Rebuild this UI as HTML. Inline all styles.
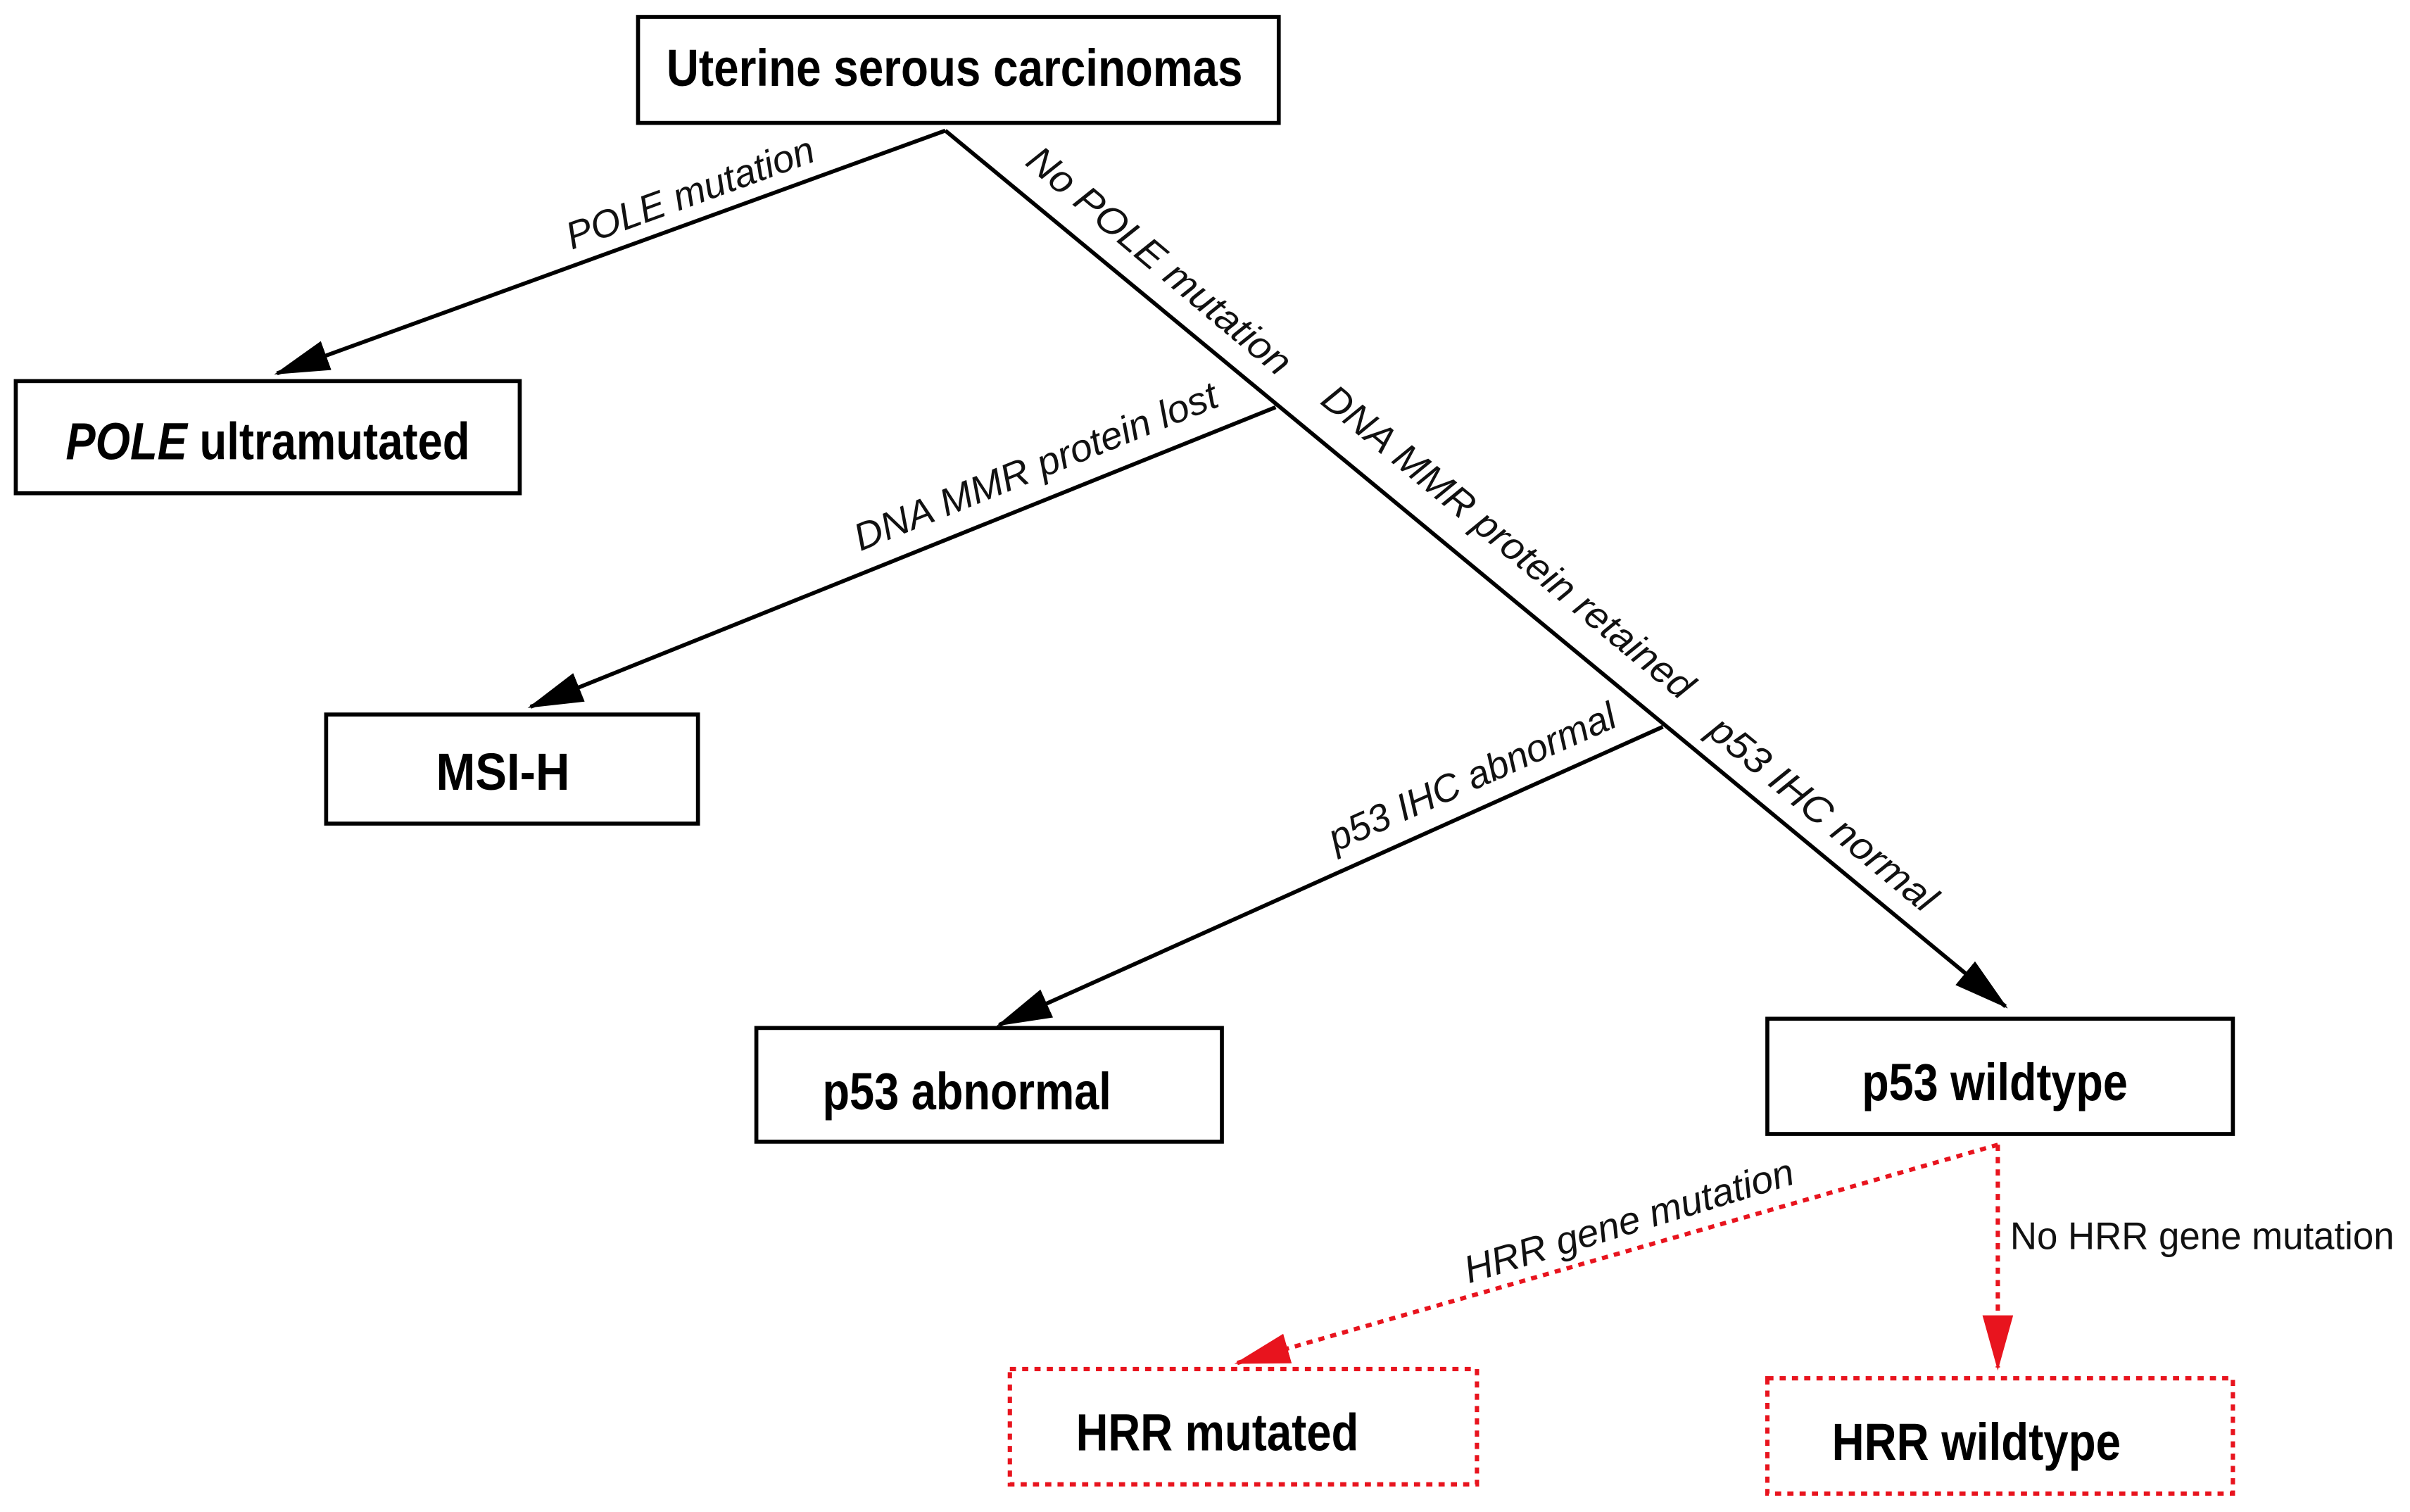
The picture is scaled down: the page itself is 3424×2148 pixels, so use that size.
<!DOCTYPE html>
<html><head><meta charset="utf-8"><style>
html,body{margin:0;padding:0;background:#fff;}
svg{display:block;}
text{font-family:"Liberation Sans",Arial,sans-serif;}
.b{font-weight:bold;font-size:34px;fill:#000;}
.l{font-style:italic;font-size:25px;fill:#111;}
</style></head><body>
<svg width="3424" height="2148" viewBox="0 0 1568 984" xmlns="http://www.w3.org/2000/svg">
<defs>
<marker id="ak" markerWidth="36" markerHeight="20" refX="34" refY="10" orient="auto" markerUnits="userSpaceOnUse">
<path d="M0,0 L36,10 L0,20 Z" fill="#000"/></marker>
<marker id="ar" markerWidth="36" markerHeight="20" refX="34" refY="10" orient="auto" markerUnits="userSpaceOnUse">
<path d="M0,0 L36,10 L0,20 Z" fill="#e8141e"/></marker>
</defs>
<rect width="1568" height="984" fill="#fff"/>
<g fill="none" stroke="#000" stroke-width="2.6">
<rect x="415" y="11" width="417" height="69"/>
<rect x="10" y="248" width="328" height="73"/>
<rect x="212" y="465" width="242" height="71"/>
<rect x="492" y="669" width="303" height="74"/>
<rect x="1150" y="663" width="303" height="75"/>
</g>
<g fill="none" stroke="#e8141e" stroke-width="2.8" stroke-dasharray="4,4">
<rect x="657" y="891" width="304" height="75"/>
<rect x="1150" y="897" width="303" height="75"/>
</g>
<g stroke="#000" stroke-width="2.6" fill="none">
<line x1="615" y1="85" x2="180" y2="243" marker-end="url(#ak)"/>
<line x1="615" y1="85" x2="1305" y2="655" marker-end="url(#ak)"/>
<line x1="830" y1="265" x2="345" y2="460" marker-end="url(#ak)"/>
<line x1="1082" y1="473" x2="650" y2="667" marker-end="url(#ak)"/>
</g>
<g stroke="#e8141e" stroke-width="2.8" fill="none" stroke-dasharray="4,4">
<line x1="1300" y1="745" x2="805" y2="887" marker-end="url(#ar)"/>
<line x1="1300" y1="745" x2="1300" y2="890" marker-end="url(#ar)"/>
</g>
<text class="b" x="621" y="56" text-anchor="middle" textLength="375" lengthAdjust="spacingAndGlyphs">Uterine serous carcinomas</text>
<text class="b" x="174" y="299" text-anchor="middle" textLength="263" lengthAdjust="spacingAndGlyphs"><tspan font-style="italic">POLE</tspan> ultramutated</text>
<text class="b" x="327" y="514" text-anchor="middle" textLength="87" lengthAdjust="spacingAndGlyphs">MSI-H</text>
<text class="b" x="629" y="722" text-anchor="middle" textLength="188" lengthAdjust="spacingAndGlyphs">p53 abnormal</text>
<text class="b" x="1298" y="716" text-anchor="middle" textLength="173" lengthAdjust="spacingAndGlyphs">p53 wildtype</text>
<text class="b" x="792" y="944" text-anchor="middle" textLength="184" lengthAdjust="spacingAndGlyphs">HRR mutated</text>
<text class="b" x="1286" y="950" text-anchor="middle" textLength="188" lengthAdjust="spacingAndGlyphs">HRR wildtype</text>
<g class="l">
<text transform="translate(449,126) rotate(-20)" x="0" y="8" text-anchor="middle" textLength="170" lengthAdjust="spacingAndGlyphs">POLE mutation</text>
<text transform="translate(754,170) rotate(40)" x="0" y="8" text-anchor="middle" textLength="216" lengthAdjust="spacingAndGlyphs">No POLE mutation</text>
<text transform="translate(674,304) rotate(-22)" x="0" y="8" text-anchor="middle" textLength="253" lengthAdjust="spacingAndGlyphs">DNA MMR protein lost</text>
<text transform="translate(981,353) rotate(39.5)" x="0" y="8" text-anchor="middle" textLength="305" lengthAdjust="spacingAndGlyphs">DNA MMR protein retained</text>
<text transform="translate(958,506) rotate(-24)" x="0" y="8" text-anchor="middle" textLength="202" lengthAdjust="spacingAndGlyphs">p53 IHC abnormal</text>
<text transform="translate(1186,530) rotate(39.5)" x="0" y="8" text-anchor="middle" textLength="184" lengthAdjust="spacingAndGlyphs">p53 IHC normal</text>
<text transform="translate(1060,795) rotate(-17)" x="0" y="8" text-anchor="middle" textLength="223" lengthAdjust="spacingAndGlyphs">HRR gene mutation</text>
</g>
<text x="1308" y="813" font-size="25" fill="#111" textLength="250" lengthAdjust="spacingAndGlyphs">No HRR gene mutation</text>
</svg>
</body></html>
